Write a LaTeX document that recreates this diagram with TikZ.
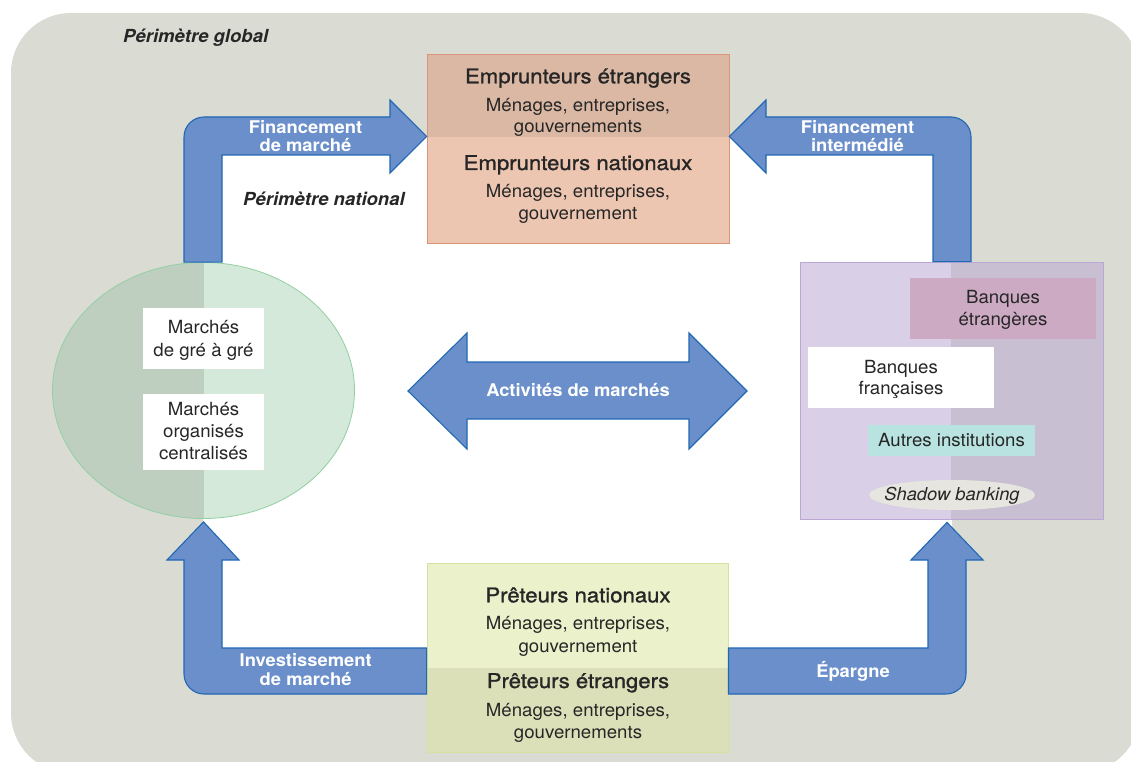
\documentclass[tikz,border=0pt]{standalone}
\usepackage{fontspec}
\setmainfont{TeX Gyre Heros}[FakeStretch=1.03]
\newfontfamily\titlefont{TeX Gyre Heros}[FakeStretch=1.09,FakeBold=1.2]
\newfontfamily\flowfont{TeX Gyre Heros}[FakeStretch=1.05]
\usetikzlibrary{calc,shapes.geometric}

\definecolor{bggrey}{HTML}{DADBD3}
\definecolor{flowfill}{HTML}{6A8FCB}
\definecolor{flowline}{HTML}{2168B3}
\definecolor{orlight}{HTML}{EDC6B2}
\definecolor{ordark}{HTML}{DBB8A3}
\definecolor{orline}{HTML}{D9957A}
\definecolor{yelight}{HTML}{EBF1CB}
\definecolor{yedark}{HTML}{DBE0B8}
\definecolor{yeline}{HTML}{D5E19E}
\definecolor{grlight}{HTML}{D4E9D9}
\definecolor{grdark}{HTML}{BECFBF}
\definecolor{grline}{HTML}{92CFA3}
\definecolor{pulight}{HTML}{D9CFE6}
\definecolor{pudark}{HTML}{C8C0D2}
\definecolor{puline}{HTML}{BAA7D4}
\definecolor{pinkbox}{HTML}{CDAAC4}
\definecolor{tealbox}{HTML}{B8E3E0}
\definecolor{shadowfill}{HTML}{E6E5DF}
\definecolor{ink}{HTML}{262626}

\begin{document}
\begin{tikzpicture}[x=1pt,y=-1pt,
  box/.style={rectangle,inner sep=0pt,line width=0.9pt},
  flow/.style={fill=flowfill,draw=flowline,line width=1.1pt,line join=miter},
  title/.style={anchor=base,inner sep=0pt,text=ink,font=\titlefont\fontsize{20.3}{24}\selectfont},
  body/.style={anchor=base,inner sep=0pt,text=ink,font=\fontsize{18.1}{21}\selectfont},
  flowlabel/.style={anchor=base,inner sep=0pt,text=white,font=\flowfont\bfseries\fontsize{17.5}{20}\selectfont},
  zone/.style={anchor=base west,inner sep=0pt,text=ink,font=\bfseries\itshape\fontsize{18}{20}\selectfont}]

\useasboundingbox (0,0) rectangle (1131,762);
\clip (0,0) rectangle (1131,762);

% global and national perimeters
\fill[bggrey,rounded corners=60pt] (11,13) rectangle (1140,773);
\fill[white] (203,137) rectangle (952,668);

\node[zone] (global) at (123,43) {Périmètre global};
\node[zone] (national) at (243,205.5) {Périmètre national};

% borrowers
\node[box,fill=orlight,draw=orline,minimum width=302pt,minimum height=189pt,
  path picture={\fill[ordark] (path picture bounding box.north west) rectangle ($(path picture bounding box.north east)+(0pt,-83pt)$);}]
  (borr) at (578,148.5) {};
\node[title] (borrF) at (578,83.3) {Emprunteurs étrangers};
\node[body] (borrF1) at (578,111.3) {Ménages, entreprises,};
\node[body] (borrF2) at (578,132.5) {gouvernements};
\node[title] (borrN) at (578,170) {Emprunteurs nationaux};
\node[body] (borrN1) at (578,197.3) {Ménages, entreprises,};
\node[body] (borrN2) at (578,219.3) {gouvernement};

% lenders
\node[box,fill=yelight,draw=yeline,minimum width=301pt,minimum height=189pt,
  path picture={\fill[yedark] (path picture bounding box.south west) rectangle ($(path picture bounding box.south east)+(0pt,84pt)$);}]
  (lend) at (577.5,657.5) {};
\node[title] (lendN) at (578,602.3) {Prêteurs nationaux};
\node[body] (lendN1) at (578,629.7) {Ménages, entreprises,};
\node[body] (lendN2) at (578,652.5) {gouvernement};
\node[title] (lendF) at (578,688) {Prêteurs étrangers};
\node[body] (lendF1) at (578,716.3) {Ménages, entreprises,};
\node[body] (lendF2) at (578,738.5) {gouvernements};

% markets
\node[ellipse,inner sep=0pt,minimum width=302pt,minimum height=256pt,fill=grlight,draw=grline,line width=0.8pt,
  path picture={\fill[grdark] (path picture bounding box.north west) rectangle (path picture bounding box.south);}]
  (mkts) at (203.5,390.5) {};
\node[box,fill=white,minimum width=121pt,minimum height=61pt] (otc) at (203.5,338.5) {};
\node[body] (otc1) at (203.5,333.3) {Marchés};
\node[body] (otc2) at (203.5,356) {de gré à gré};
\node[box,fill=white,minimum width=121pt,minimum height=76pt] (org) at (203.5,432) {};
\node[body] (org1) at (203.5,415) {Marchés};
\node[body] (org2) at (203.5,437.5) {organisés};
\node[body] (org3) at (203.5,459.3) {centralisés};

% intermediaries
\node[box,fill=pulight,draw=puline,minimum width=303pt,minimum height=257pt,
  path picture={\fill[pudark] ($(path picture bounding box.north west)+(151pt,0pt)$) rectangle (path picture bounding box.south east);}]
  (inter) at (951.5,390.5) {};
\node[box,fill=pinkbox,minimum width=186pt,minimum height=61pt] (forb) at (1003,308.5) {};
\node[body] (forb1) at (1003,303.3) {Banques};
\node[body] (forb2) at (1003,325) {étrangères};
\node[box,fill=white,minimum width=186pt,minimum height=61pt] (frb) at (901,377.5) {};
\node[body] (frb1) at (901,373.3) {Banques};
\node[body] (frb2) at (901,394.3) {françaises};
\node[box,fill=tealbox,minimum width=167pt,minimum height=31pt] (oth) at (951.5,440.5) {};
\node[body] (oth1) at (951.5,446) {Autres institutions};
\node[ellipse,inner sep=0pt,fill=shadowfill,minimum width=166pt,minimum height=30pt] (shb) at (952,495) {};
\node[body,font=\itshape\fontsize{17.8}{21}\selectfont] (shb1) at (952,500.7) {Shadow banking};

% flows: markets -> borrowers
\coordinate (tlTip) at (borr.west |- 0,136.5);
\draw[flow] ($(mkts.north)+(-19.5pt,0pt)$) -- (184,137) .. controls (184,126) and (193,117) .. (204,117)
  -- (390,117) -- (390,100) -- (tlTip) -- (390,173) -- (390,155) -- (222,155) -- ($(mkts.north)+(18.5pt,0pt)$) -- cycle;
\node[flowlabel] (finm1) at (305.5,133.3) {Financement};
\node[flowlabel] (finm2) at (305.5,151.7) {de marché};

% flows: intermediaries -> borrowers
\coordinate (trTip) at (borr.east |- 0,136.5);
\draw[flow] ($(inter.north)+(-18.5pt,0pt)$) -- (933,155) -- (766,155) -- (766,173) -- (trTip) -- (766,100)
  -- (766,117) -- (951,117) .. controls (962,117) and (971,126) .. (971,137) -- ($(inter.north)+(19.5pt,0pt)$) -- cycle;
\node[flowlabel] (fini1) at (857.5,133.3) {Financement};
\node[flowlabel] (fini2) at (857.5,151.7) {intermédié};

% flows: lenders -> markets
\coordinate (blTip) at ($(mkts.south)+(0pt,-3pt)$);
\draw[flow] (lend.west |- 0,648) -- (222,648) -- (222,560) -- (239,560) -- (blTip) -- (167,560) -- (184,560)
  -- (184,674) .. controls (184,685) and (193,694) .. (204,694) -- (lend.west |- 0,694) -- cycle;
\node[flowlabel] (inv1) at (305.7,666.7) {Investissement};
\node[flowlabel] (inv2) at (305.7,685.7) {de marché};

% flows: lenders -> intermediaries
\coordinate (brTip) at ($(inter.south)+(-4.5pt,-3pt)$);
\draw[flow] (lend.east |- 0,648) -- (928,648) -- (928,560) -- (911,560) -- (brTip) -- (983,560) -- (966,560)
  -- (966,674) .. controls (966,685) and (957,694) .. (946,694) -- (lend.east |- 0,694) -- cycle;
\node[flowlabel] (epa) at (853,677.7) {Épargne};

% market activities
\coordinate (maL) at (408,391);
\coordinate (maR) at (747,391);
\draw[flow] (maL) -- (467,333) -- (467,362) -- (689,362) -- (689,333) -- (maR) -- (689,449) -- (689,419)
  -- (467,419) -- (467,449) -- cycle;
\node[flowlabel] (act) at (578,396) {Activités de marchés};
\end{tikzpicture}
\end{document}
